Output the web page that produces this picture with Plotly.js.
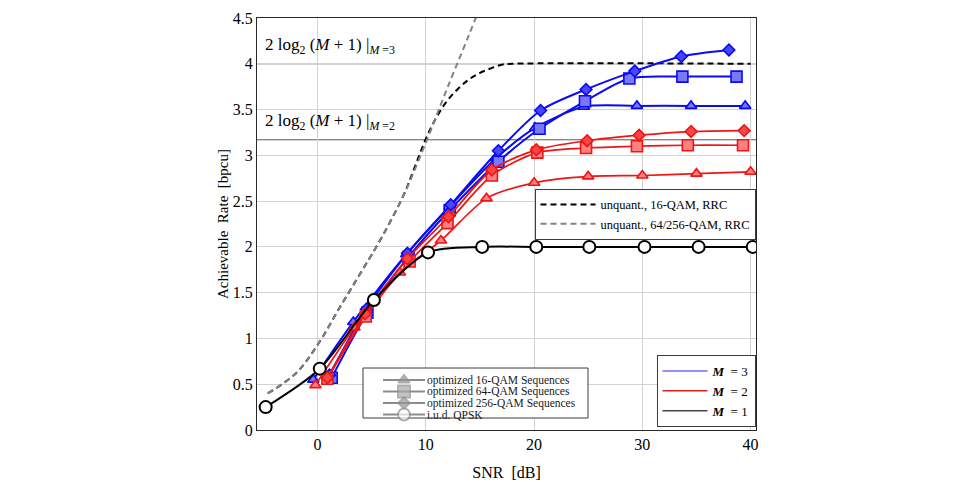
<!DOCTYPE html>
<html>
<head>
<meta charset="utf-8">
<script src="https://cdn.plot.ly/plotly-3.0.1.min.js"></script>
<style>html,body{margin:0;padding:0;background:#fff;}#chart{width:962px;height:482px;}</style>
</head>
<body>
<div id="chart"></div>
<script>
// ---- data ----
const unq16X = [-4.6, -2, 0, 2, 4, 6, 8, 9, 10, 11, 12, 13, 14, 15, 16, 17, 18, 40];
const unq16Y = [0.40, 0.62, 0.93, 1.33, 1.72, 2.12, 2.58, 2.88, 3.18, 3.42, 3.60, 3.73, 3.83, 3.90, 3.95, 3.99, 4.0, 4.0];
const unq256X = [-4.6, -2, 0, 2, 4, 6, 8, 10, 12, 14, 15];
const unq256Y = [0.40, 0.62, 0.93, 1.33, 1.72, 2.12, 2.58, 3.14, 3.74, 4.32, 4.62];

const m3TriX = [-0.4, 3.3, 8.2, 12.2, 16.5, 20.1, 24.6, 29.5, 34.5, 39.5];
const m3TriY = [0.55, 1.18, 1.92, 2.44, 2.97, 3.30, 3.53, 3.54, 3.54, 3.54];
const m3SqX = [1.3, 4.6, 8.4, 12.2, 16.7, 20.5, 24.7, 28.8, 33.7, 38.7];
const m3SqY = [0.57, 1.28, 1.89, 2.40, 2.93, 3.29, 3.59, 3.84, 3.86, 3.86];
const m3DiX = [1.1, 4.5, 8.3, 12.3, 16.7, 20.6, 24.8, 29.3, 33.6, 38.0];
const m3DiY = [0.60, 1.32, 1.93, 2.46, 3.05, 3.49, 3.72, 3.92, 4.08, 4.15];

const m2TriX = [-0.2, 3.4, 7.6, 11.4, 15.6, 20.0, 25.0, 30.0, 35.0, 40.0];
const m2TriY = [0.49, 1.12, 1.72, 2.07, 2.53, 2.70, 2.77, 2.78, 2.80, 2.82];
const m2SqX = [0.9, 4.45, 8.5, 12.0, 16.1, 20.3, 24.8, 29.5, 34.2, 39.3];
const m2SqY = [0.56, 1.24, 1.84, 2.26, 2.78, 3.03, 3.08, 3.10, 3.11, 3.11];
const m2DiX = [0.9, 4.4, 8.3, 12.1, 16.1, 20.2, 24.9, 29.7, 34.5, 39.4];
const m2DiY = [0.57, 1.27, 1.87, 2.33, 2.84, 3.06, 3.16, 3.22, 3.26, 3.27];

const qpskX = [-4.8, 0.2, 5.2, 10.2, 15.2, 20.2, 25.1, 30.2, 35.2, 40.2];
const qpskY = [0.25, 0.67, 1.42, 1.94, 2.0, 2.0, 2.0, 2.0, 2.0, 2.0];

const limitM = [3, 2];
const limitY = [4.0, 3.17];
const limitLabels = ['2 log<sub>2</sub> (<i>M</i> + 1) |<sub><i>M</i> =3</sub>', '2 log<sub>2</sub> (<i>M</i> + 1) |<sub><i>M</i> =2</sub>'];

const legendSeqNames = ['optimized 16-QAM Sequences', 'optimized 64-QAM Sequences', 'optimized 256-QAM Sequences', 'i.u.d. QPSK'];
const legendMNames = ['<b><i>M</i></b>  = 3', '<b><i>M</i></b>  = 2', '<b><i>M</i></b>  = 1'];
const xTicks = [0, 10, 20, 30, 40];
const yTicks = [0, 0.5, 1, 1.5, 2, 2.5, 3, 3.5, 4, 4.5];

// ---- styles / layout geometry (not data) ----
const BLUE = 'rgb(10,10,245)', BLUEF = 'rgb(120,120,250)';
const RED = 'rgb(240,20,20)', REDF = 'rgb(250,130,130)';
const GRAY = 'rgb(140,140,140)';
const FONT = 'Liberation Serif, Times New Roman, serif';
const XR = [-5.6, 40.5], YR = [0, 4.5];
const PLOT = {l: 257, r: 756, t: 18, b: 430};
// helpers that place legend furniture (pixel position -> axis position)
const px2x = p => XR[0] + (p - PLOT.l) / (PLOT.r - PLOT.l) * (XR[1] - XR[0]);
const py2y = p => YR[0] + (PLOT.b - p) / (PLOT.b - PLOT.t) * (YR[1] - YR[0]);
// compact legend box for the sequence types (pixel geometry)
const seqBox = {x0: 363, x1: 588, y0: 368, y1: 418};
const seqRowY = [380, 391.5, 403, 414.5];
const seqLineX = [383, 425], seqMarkX = 404, seqTextX = 426;

function series(x, y, color, fill, symbol, size, width) {
  return {x: x, y: y, type: 'scatter', mode: 'lines+markers', showlegend: false,
    line: {color: color, width: width, shape: 'spline', smoothing: 0.8},
    marker: {symbol: symbol, size: size, color: fill, line: {color: color, width: 1.6}},
    hoverinfo: 'x+y'};
}

const traces = [
  {x: unq16X, y: unq16Y, type: 'scatter', mode: 'lines', name: 'unquant., 16-QAM, RRC', legend: 'legend', legendrank: 1,
   line: {color: 'rgb(0,0,0)', width: 2, dash: '6px,4px', shape: 'spline'}},
  {x: unq256X, y: unq256Y, type: 'scatter', mode: 'lines', name: 'unquant., 64/256-QAM, RRC', legend: 'legend', legendrank: 2,
   line: {color: 'rgb(130,130,130)', width: 2, dash: '6px,4px', shape: 'spline'}},
  series(m3TriX, m3TriY, BLUE, BLUEF, 'triangle-up', 10, 2),
  series(m3SqX, m3SqY, BLUE, BLUEF, 'square', 11, 2),
  series(m3DiX, m3DiY, BLUE, 'rgb(70,70,250)', 'diamond', 9, 2),
  series(m2TriX, m2TriY, RED, REDF, 'triangle-up', 10, 1.7),
  series(m2SqX, m2SqY, RED, REDF, 'square', 11, 1.7),
  series(m2DiX, m2DiY, RED, 'rgb(245,70,70)', 'diamond', 9, 1.7),
  {x: qpskX, y: qpskY, type: 'scatter', mode: 'lines+markers', showlegend: false,
   line: {color: 'black', width: 2, shape: 'spline', smoothing: 0.8},
   marker: {symbol: 'circle', size: 12, color: 'white', line: {color: 'black', width: 2}}},
];

// legend glyph markers for the sequence-type legend
const seqSymbols = ['triangle-up', 'square', 'diamond', 'circle'];
const seqFills = ['rgb(150,150,150)', 'rgb(170,170,170)', 'rgb(150,150,150)', 'white'];
const seqSizes = [10, 12, 9, 12];
traces.push({x: seqRowY.map(() => px2x(seqMarkX)), y: seqRowY.map(py2y), type: 'scatter', mode: 'markers', showlegend: false,
  hoverinfo: 'skip', cliponaxis: false,
  marker: {symbol: seqSymbols, size: seqSizes, color: seqFills, line: {color: GRAY, width: 1.8}}});

const mColors = ['rgb(110,110,255)', 'rgb(230,30,30)', 'rgb(70,70,70)'];
legendMNames.forEach((n, i) => traces.push({x: [null], y: [null], type: 'scatter', mode: 'lines', name: n, legend: 'legend3',
  line: {color: mColors[i], width: 1.5}}));

const shapes = limitY.map(v => ({type: 'line', xref: 'paper', x0: 0, x1: 1, yref: 'y', y0: v, y1: v,
  line: {color: 'rgb(90,90,90)', width: 1}, layer: 'between'}));
shapes.push({type: 'rect', xref: 'x', yref: 'y', x0: px2x(seqBox.x0), x1: px2x(seqBox.x1), y0: py2y(seqBox.y0), y1: py2y(seqBox.y1),
  fillcolor: 'white', line: {color: 'rgb(60,60,60)', width: 1}, layer: 'between'});
seqRowY.forEach(yy => shapes.push({type: 'line', xref: 'x', yref: 'y', x0: px2x(seqLineX[0]), x1: px2x(seqLineX[1]), y0: py2y(yy), y1: py2y(yy),
  line: {color: GRAY, width: 2.2}, layer: 'between'}));

const annotations = limitLabels.map((t, i) => ({xref: 'paper', x: 0.012, xanchor: 'left', yref: 'y', y: limitY[i] + 0.19, yanchor: 'middle',
  text: t, showarrow: false, font: {family: FONT, size: 17, color: 'black'}}));
legendSeqNames.forEach((t, i) => annotations.push({xref: 'x', yref: 'y', x: px2x(seqTextX), y: py2y(seqRowY[i]), xanchor: 'left', yanchor: 'middle',
  text: t, showarrow: false, font: {family: FONT, size: 11.5, color: 'rgb(25,25,25)'}, borderpad: 0}));

const legendBase = {bgcolor: 'white', bordercolor: 'rgb(60,60,60)', borderwidth: 1, font: {family: FONT, size: 12.5, color: 'black'},
  traceorder: 'normal', tracegroupgap: 0};

const layout = {
  width: 962, height: 482,
  margin: {l: 257, r: 206, t: 18, b: 52},
  paper_bgcolor: 'white', plot_bgcolor: 'white',
  font: {family: FONT, color: 'black'},
  xaxis: {range: XR, tickvals: xTicks, ticktext: xTicks.map(String), showgrid: true, gridcolor: 'rgb(210,210,210)', gridwidth: 1,
    zeroline: false, showline: true, mirror: true, linecolor: 'rgb(40,40,40)', linewidth: 1, ticks: '', tickfont: {family: FONT, size: 16},
    title: {text: 'SNR  [dB]', font: {family: FONT, size: 16}, standoff: 14}},
  yaxis: {range: YR, tickvals: yTicks, ticktext: yTicks.map(String), showgrid: true, gridcolor: 'rgb(210,210,210)', gridwidth: 1,
    zeroline: false, showline: true, mirror: true, linecolor: 'rgb(40,40,40)', linewidth: 1, ticks: '', tickfont: {family: FONT, size: 16},
    title: {text: 'Achievable  Rate  [bpcu]', font: {family: FONT, size: 15}, standoff: 0}},
  shapes: shapes,
  annotations: annotations,
  legend: Object.assign({}, legendBase, {x: 0.999, xanchor: 'right', y: 0.585, yanchor: 'top', itemwidth: 55}),
  legend3: Object.assign({}, legendBase, {x: 0.999, xanchor: 'right', y: 0.182, yanchor: 'top', itemwidth: 45, font: {family: FONT, size: 13, color: 'black'}}),
  showlegend: true
};

Plotly.newPlot('chart', traces, layout, {displayModeBar: false, staticPlot: true});
</script>
</body>
</html>
